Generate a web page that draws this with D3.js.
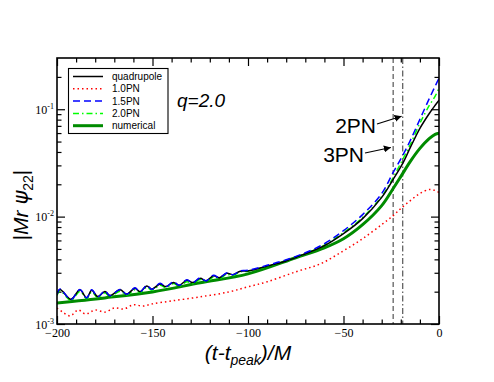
<!DOCTYPE html>
<html><head><meta charset="utf-8">
<script src="https://cdn.jsdelivr.net/npm/d3@7"></script>
<style>html,body{margin:0;padding:0;background:#fff;} svg{display:block}</style>
</head><body><div id="chart"></div>
<script>
// ---------------- data ----------------
const timePN = [-200,-198.4,-192.7,-188,-184.5,-181.8,-178.7,-174.9,-172.3,-167,-163.5,-159.2,-156.5,-153,-150.4,-146,-143,-139,-136,-132,-129,-125,-122,-118,-115,-111,-108,-104,
                -100,-90,-80,-70,-60,-50,-40,-30,-24,-19,-15,-10,-5,-2,0];
const quadrupole = [0.00188,0.00210,0.00170,0.00208,0.00176,0.00206,0.00180,0.00201,0.00184,0.00208,0.00190,0.00215,0.00200,0.00226,0.00211,0.00236,0.00223,0.00244,0.00230,0.00255,0.00243,0.00266,0.00253,0.00281,0.00270,0.00297,0.00288,0.00310,
                    0.00312,0.00346,0.00386,0.00451,0.00536,0.00694,0.00958,0.0151,0.0222,0.0313,0.0441,0.0664,0.0918,0.1090,0.1214];
const pn15 = [0.00189,0.00212,0.00169,0.00210,0.00175,0.00208,0.00179,0.00203,0.00183,0.00210,0.00189,0.00217,0.00199,0.00229,0.00210,0.00239,0.00222,0.00247,0.00229,0.00258,0.00242,0.00269,0.00252,0.00284,0.00269,0.00300,0.00287,0.00313,
              0.00316,0.00352,0.00396,0.00461,0.00559,0.00740,0.01044,0.0164,0.0258,0.0372,0.0513,0.0806,0.1267,0.1641,0.1949];
const pn20 = [0.00184,0.00203,0.00166,0.00201,0.00172,0.00199,0.00176,0.00195,0.00180,0.00202,0.00186,0.00208,0.00196,0.00220,0.00206,0.00230,0.00218,0.00238,0.00225,0.00248,0.00238,0.00259,0.00248,0.00274,0.00264,0.00290,0.00282,0.00306,
              0.00310,0.00343,0.00386,0.00450,0.00542,0.00709,0.00979,0.0154,0.0231,0.0341,0.0471,0.0740,0.1090,0.1322,0.1571];
const time10 = [-200,-197,-193,-189,-185,-180,-175,-170,-165,-160,-155,-150,-140,-125,-110,-100,-90,-75,-62,-50,-40,-30,-24,-20,-15,-10,-5,-2,0];
const pn10 = [0.00141,0.00129,0.00119,0.00135,0.00124,0.00135,0.00129,0.00141,0.00138,0.00151,0.00147,0.00154,0.00164,0.00179,0.00199,0.00222,0.00247,0.00306,0.00364,0.00481,0.00623,0.00842,0.01022,0.01188,0.01411,0.01641,0.01788,0.0175,0.0168];
const timeNum = [-200,-175,-150,-125,-100,-75,-60,-50,-40,-30,-24,-20,-15,-10,-5,-2,0];
const numerical = [0.00157,0.00175,0.00199,0.00242,0.00293,0.00414,0.00513,0.00623,0.00842,0.01267,0.01827,0.0236,0.0327,0.0432,0.0536,0.0584,0.0597];

const seriesNames = ["quadrupole","1.0PN","1.5PN","2.0PN","numerical"];
const xTicks = [-200,-150,-100,-50,0];
const xMinorTicks = d3.range(-190, 0, 10).filter(v => v % 50 !== 0);
const yTicks = [0.001,0.01,0.1];
const yTickExp = ["-3","-2","-1"];
const yMinorTicks = [0.002,0.003,0.004,0.005,0.006,0.007,0.008,0.009,0.02,0.03,0.04,0.05,0.06,0.07,0.08,0.09,0.2];
const markerTimes = [-24,-19];
const qLabel = "q=2.0";
const annotLabels = ["2PN","3PN"];
const annotTips = [[-19.6,0.086],[-25.2,0.044]];

// ---------------- drawing ----------------
const W = 494, H = 382;
const L = 57, R = 439, T = 58, B = 324;
const x = d3.scaleLinear().domain([-200,0]).range([L,R]);
const y = d3.scaleLog().domain([0.001,0.3]).range([B,T]);

const svg = d3.select("#chart").append("svg").attr("width",W).attr("height",H)
  .style("background","#fff");

svg.append("defs").append("clipPath").attr("id","clip")
  .append("rect").attr("x",L).attr("y",T).attr("width",R-L).attr("height",B-T);
svg.select("defs").append("marker").attr("id","arrow")
  .attr("viewBox","0 0 10 10").attr("refX",10).attr("refY",5)
  .attr("markerWidth",7).attr("markerHeight",7).attr("markerUnits","userSpaceOnUse")
  .attr("orient","auto")
  .append("path").attr("d","M0,0L10,5L0,10z").attr("fill","#000");

const serif = "'Liberation Serif','Times New Roman',serif";
const sans = "'Liberation Sans',Arial,Helvetica,sans-serif";

function styleAxis(g){ g.select(".domain").remove(); g.selectAll(".tick line").attr("stroke","#000").attr("stroke-width",1.2); }
svg.append("g").attr("transform",`translate(0,${B})`)
  .call(d3.axisBottom(x).tickValues(xTicks).tickSize(-8).tickPadding(4).tickFormat(d3.format("d")))
  .call(styleAxis)
  .call(g => g.selectAll("text").attr("font-family",serif).attr("font-size",12).attr("fill","#000"));
svg.append("g").attr("transform",`translate(0,${B})`)
  .call(d3.axisBottom(x).tickValues(xMinorTicks).tickSize(-4.5).tickFormat(""))
  .call(styleAxis);
svg.append("g").attr("transform",`translate(0,${T})`)
  .call(d3.axisTop(x).tickValues(xTicks).tickSize(-8).tickFormat(""))
  .call(styleAxis);
svg.append("g").attr("transform",`translate(0,${T})`)
  .call(d3.axisTop(x).tickValues(xMinorTicks).tickSize(-4.5).tickFormat(""))
  .call(styleAxis);
svg.append("g").attr("transform",`translate(${L},0)`)
  .call(d3.axisLeft(y).tickValues(yTicks).tickSize(-8).tickFormat(""))
  .call(styleAxis);
svg.append("g").attr("transform",`translate(${L},0)`)
  .call(d3.axisLeft(y).tickValues(yMinorTicks).tickSize(-4.5).tickFormat(""))
  .call(styleAxis);
svg.append("g").attr("transform",`translate(${R},0)`)
  .call(d3.axisRight(y).tickValues(yTicks).tickSize(-8).tickFormat(""))
  .call(styleAxis);
svg.append("g").attr("transform",`translate(${R},0)`)
  .call(d3.axisRight(y).tickValues(yMinorTicks).tickSize(-4.5).tickFormat(""))
  .call(styleAxis);

yTicks.forEach((v,i) => {
  const t = svg.append("text").attr("x",L-3).attr("y",y(v)+4.5)
    .attr("text-anchor","end").attr("font-family",serif).attr("font-size",12).attr("fill","#000");
  t.append("tspan").text("10");
  t.append("tspan").attr("dy",-5).attr("font-size",8).text(yTickExp[i]);
});

const markerDash = ["5,3","6,2.5,1.5,2.5"];
markerTimes.forEach((tm,i) => {
  svg.append("line").attr("x1",x(tm)).attr("x2",x(tm)).attr("y1",T).attr("y2",B)
    .attr("stroke","#555").attr("stroke-width",1.2).attr("stroke-dasharray",markerDash[i]);
});

const line = d3.line().x(d => x(d[0])).y(d => y(d[1])).curve(d3.curveCatmullRom.alpha(0.5));
const styles = {
  "quadrupole": {color:"#000000", width:1.5, dash:null},
  "1.0PN":      {color:"#ff0000", width:1.5, dash:"1.5,3"},
  "1.5PN":      {color:"#0000ff", width:1.5, dash:"7,4"},
  "2.0PN":      {color:"#00ff00", width:1.5, dash:"6,3,1.5,3"},
  "numerical":  {color:"#008b00", width:3,   dash:null}
};
const seriesData = {
  "quadrupole": d3.zip(timePN, quadrupole),
  "1.0PN": d3.zip(time10, pn10),
  "1.5PN": d3.zip(timePN, pn15),
  "2.0PN": d3.zip(timePN, pn20),
  "numerical": d3.zip(timeNum, numerical)
};
const drawOrder = ["numerical","1.0PN","2.0PN","quadrupole","1.5PN"];
const cg = svg.append("g").attr("clip-path","url(#clip)");
drawOrder.forEach(name => {
  const s = styles[name];
  cg.append("path").datum(seriesData[name]).attr("d",line)
    .attr("fill","none").attr("stroke",s.color).attr("stroke-width",s.width)
    .attr("stroke-dasharray",s.dash).attr("stroke-linejoin","round");
});

svg.append("rect").attr("x",L).attr("y",T).attr("width",R-L).attr("height",B-T)
  .attr("fill","none").attr("stroke","#000").attr("stroke-width",1.6);

const lg = svg.append("g");
lg.append("rect").attr("x",68.5).attr("y",68.5).attr("width",99.5).attr("height",65)
  .attr("fill","#fff").attr("stroke","#000").attr("stroke-width",1.1);
seriesNames.forEach((name,i) => {
  const s = styles[name], yy = 76.5 + i*12.3;
  lg.append("line").attr("x1",73).attr("x2",103).attr("y1",yy).attr("y2",yy)
    .attr("stroke",s.color).attr("stroke-width",s.width).attr("stroke-dasharray",s.dash);
  lg.append("text").attr("x",112).attr("y",yy+3.6).attr("font-family",sans)
    .attr("font-size",10).attr("fill","#000").text(name);
});

svg.append("text").attr("x",177).attr("y",107).attr("font-family",sans)
  .attr("font-style","italic").attr("font-size",19).attr("fill","#000").text(qLabel);

const annotText = [[376,133],[364,162]];
annotLabels.forEach((lab,i) => {
  svg.append("text").attr("x",annotText[i][0]).attr("y",annotText[i][1]).attr("text-anchor","end")
    .attr("font-family",sans).attr("font-size",21).attr("fill","#000").text(lab);
  svg.append("line").attr("x1",annotText[i][0]+1).attr("y1",annotText[i][1]-9)
    .attr("x2",x(annotTips[i][0])).attr("y2",y(annotTips[i][1]))
    .attr("stroke","#000").attr("stroke-width",1.2).attr("marker-end","url(#arrow)");
});

const xt = svg.append("text").attr("x",(L+R)/2).attr("y",360).attr("text-anchor","middle")
  .attr("font-family",sans).attr("font-style","italic").attr("font-size",21).attr("fill","#000");
xt.append("tspan").text("(t-t");
xt.append("tspan").attr("font-size",14).attr("dy",5).text("peak");
xt.append("tspan").attr("dy",-5).text(")/M");

const yt = svg.append("text").attr("transform",`translate(28,${205}) rotate(-90)`)
  .attr("text-anchor","middle").attr("font-family",sans).attr("font-size",21).attr("fill","#000");
yt.append("tspan").text("|");
yt.append("tspan").attr("font-style","italic").text("Mr ");
yt.append("tspan").attr("font-family","'DejaVu Sans',sans-serif").attr("font-style","italic").text("ψ");
yt.append("tspan").attr("font-size",14).attr("dy",5).text("22");
yt.append("tspan").attr("dy",-5).text("|");
</script>
</body></html>
